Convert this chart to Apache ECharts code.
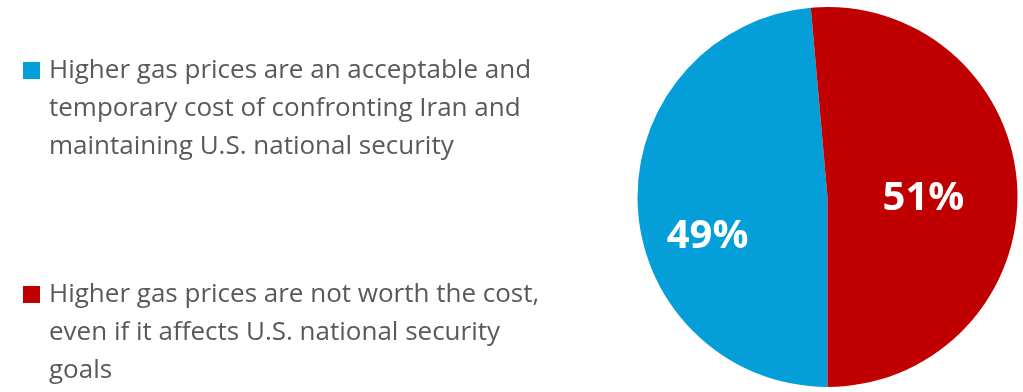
<!DOCTYPE html>
<html>
<head>
<meta charset="utf-8">
<script src="https://cdn.jsdelivr.net/npm/echarts@6/dist/echarts.min.js"></script>
<style>html,body{margin:0;padding:0;background:#fff;}#c{width:1023px;height:392px;}</style>
</head>
<body>
<div id="c"></div>
<script>
const categories = [
  'Higher gas prices are an acceptable and temporary cost of confronting Iran and maintaining U.S. national security',
  'Higher gas prices are not worth the cost, even if it affects U.S. national security goals'
];
const legendLines = [
  ['Higher gas prices are an acceptable and', 'temporary cost of confronting Iran and', 'maintaining U.S. national security'],
  ['Higher gas prices are not worth the cost,', 'even if it affects U.S. national security', 'goals']
];
const values = [48.6, 51.4];
const valueLabels = ['49%', '51%'];
const colors = ['#049FD9', '#C00000'];

const chart = echarts.init(document.getElementById('c'), null, {renderer: 'canvas'});
const LH = 38;
const PT = 6;
chart.setOption({
  animation: false,
  legend: {
    orient: 'vertical',
    left: 23,
    top: 70.5 - (5 * LH + PT) / 2,
    height: 600,
    padding: 0,
    itemWidth: 17,
    itemHeight: 17,
    itemGap: 224 - (5 * LH + PT),
    icon: 'rect',
    selectedMode: false,
    data: categories,
    formatter: function (name) {
      return '\n\n' + legendLines[categories.indexOf(name)].join('\n');
    },
    textStyle: {
      fontFamily: 'Open Sans',
      fontSize: 26,
      color: '#595959',
      lineHeight: LH,
      padding: [PT, 0, 0, 4]
    }
  },
  series: [{
    type: 'pie',
    center: [827.5, 197],
    radius: [0, 190],
    startAngle: 270,
    clockwise: true,
    avoidLabelOverlap: false,
    label: {
      show: true,
      position: 'inside',
      color: '#fff',
      fontFamily: 'Open Sans',
      fontWeight: 'bold',
      fontSize: 40,
      formatter: function (p) { return valueLabels[p.dataIndex]; }
    },
    labelLine: {show: false},
    itemStyle: {borderWidth: 0},
    emphasis: {disabled: true},
    data: categories.map(function (n, i) {
      const d = {name: n, value: values[i], itemStyle: {color: colors[i]}};
      d.label = {offset: i === 0 ? [-22, 35] : [-2, 6]};
      return d;
    })
  }]
});
</script>
</body>
</html>
